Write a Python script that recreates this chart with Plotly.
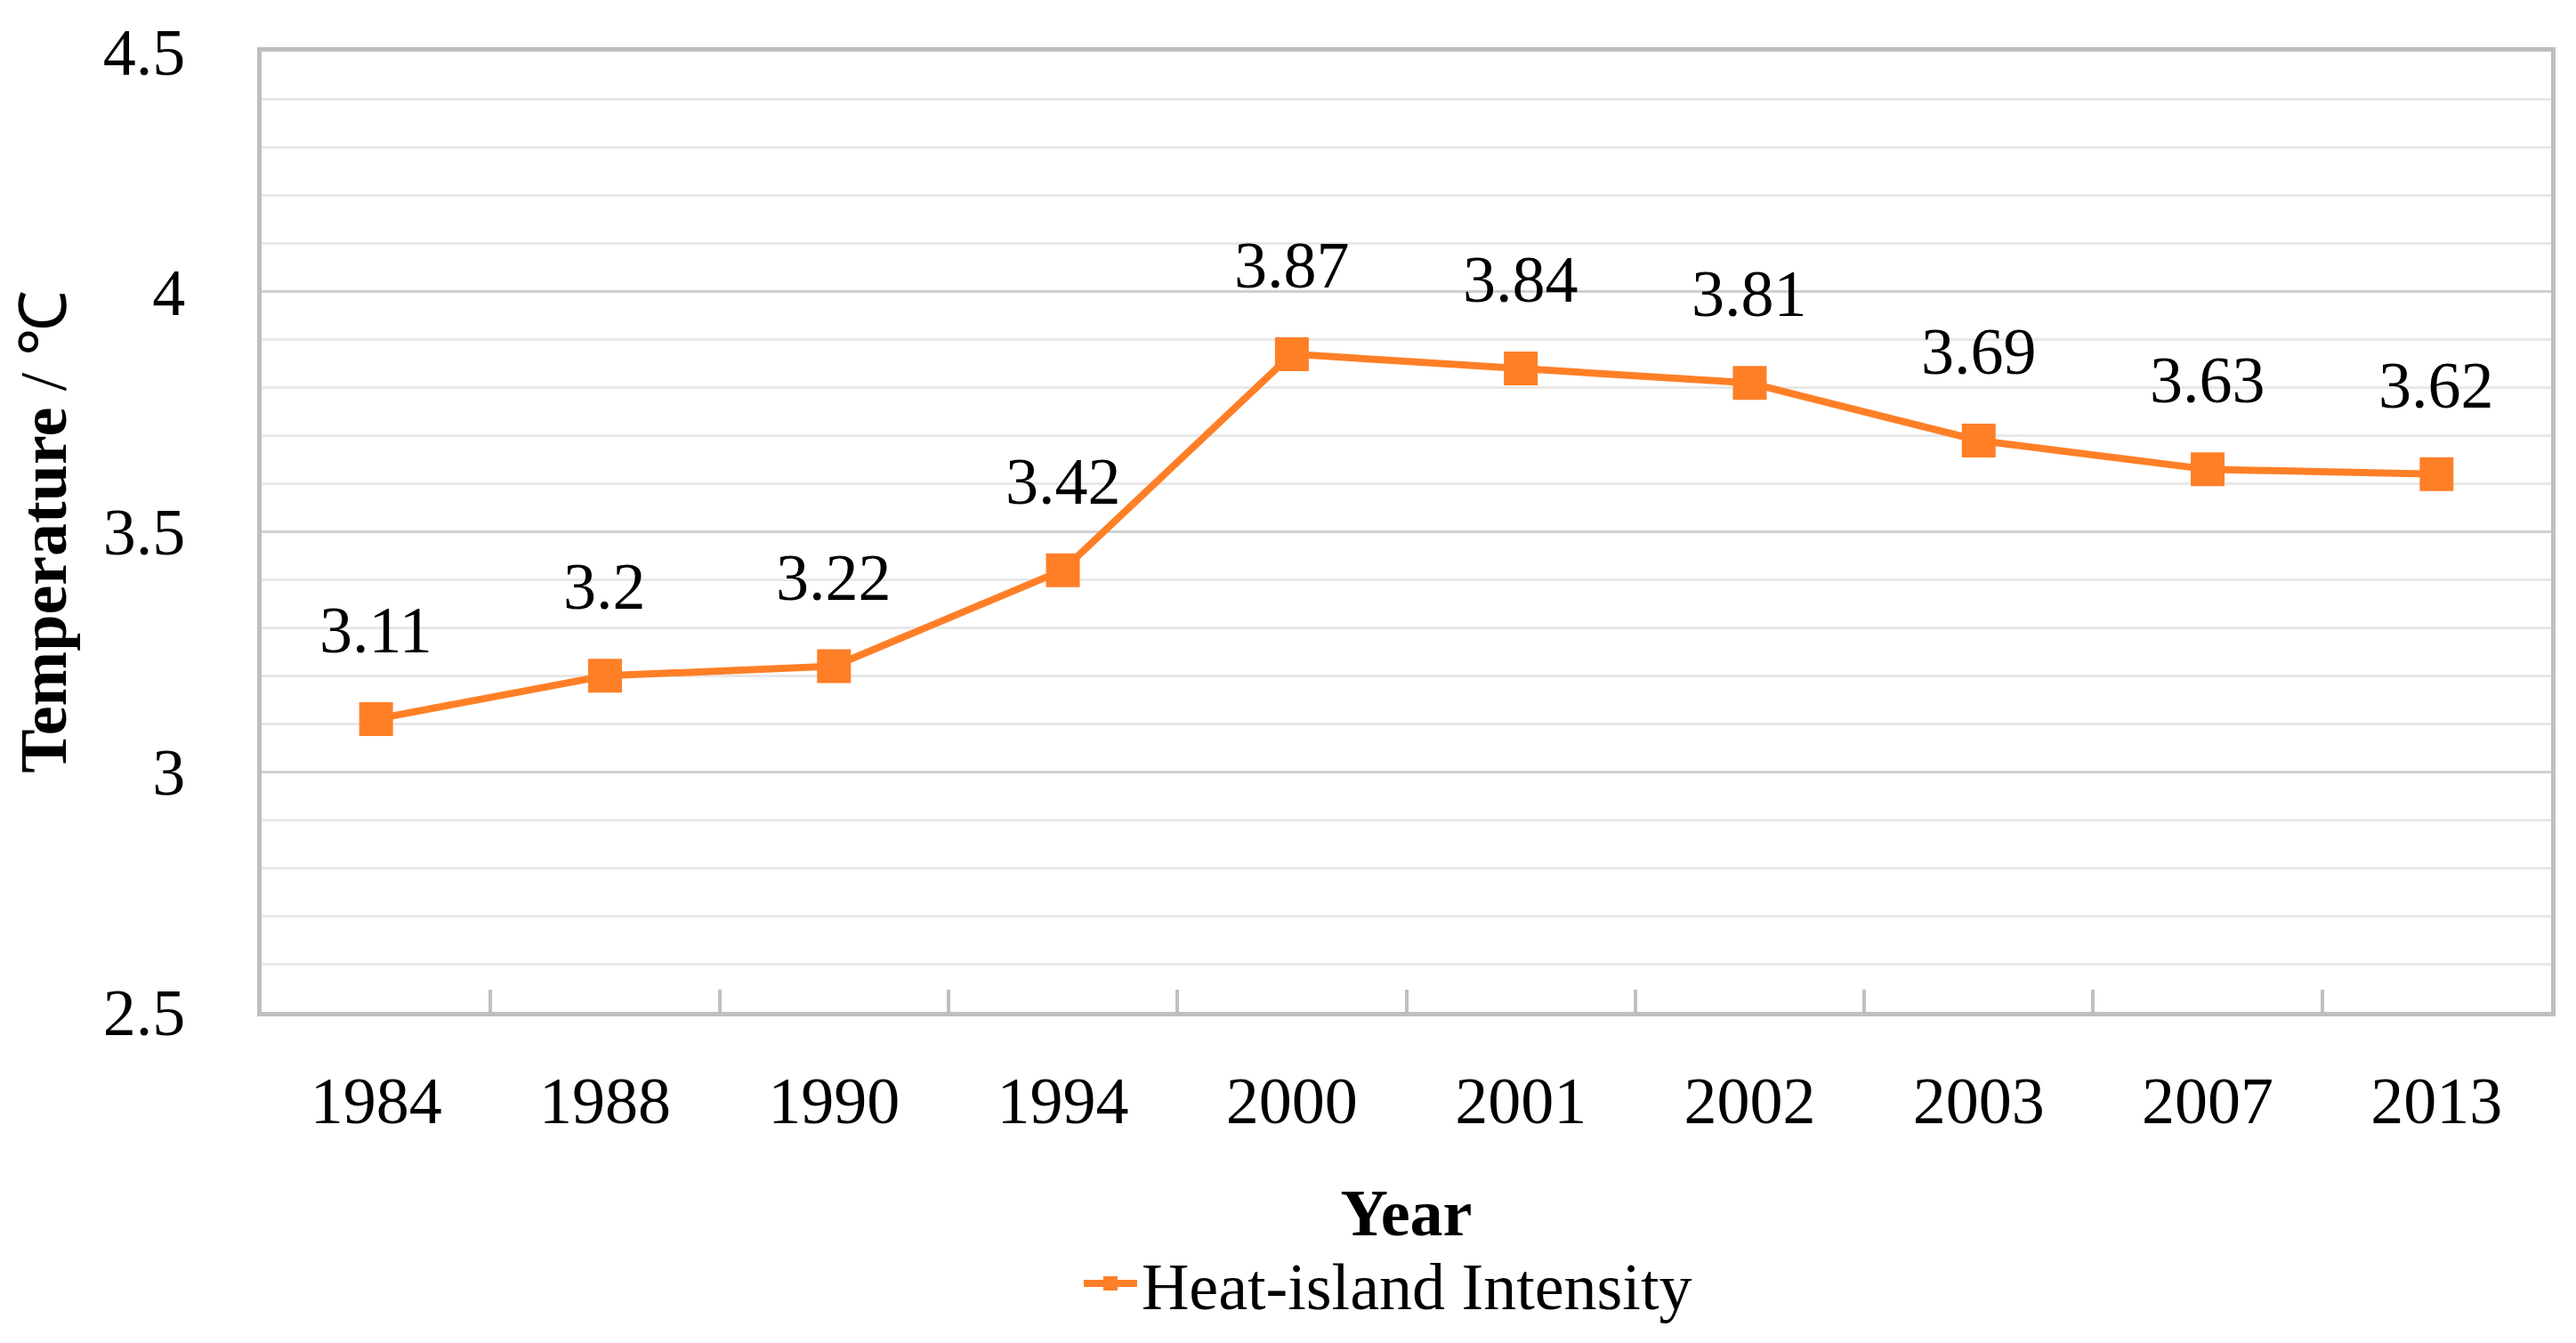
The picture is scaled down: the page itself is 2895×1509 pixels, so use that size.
import plotly.graph_objects as go

years = ["1984", "1988", "1990", "1994", "2000", "2001", "2002", "2003", "2007", "2013"]
intensity = [3.11, 3.2, 3.22, 3.42, 3.87, 3.84, 3.81, 3.69, 3.63, 3.62]
series_name = "Heat-island Intensity"
y_ticks = [2.5, 3, 3.5, 4, 4.5]
y_tick_labels = ["2.5", "3", "3.5", "4", "4.5"]

ORANGE = "#FF7F27"
FONT = "Liberation Serif"
FS = 74

fig = go.Figure()
fig.add_trace(go.Scatter(
    x=years, y=intensity, name=series_name, mode="lines+markers",
    line=dict(color=ORANGE, width=8),
    marker=dict(symbol="square", size=38, color=ORANGE),
))

# category axis: annotations addressed by category index
for i, v in enumerate(intensity):
    fig.add_annotation(x=i, y=v, xref="x", yref="y", text=f"{v:g}", showarrow=False,
                       yshift=100, yanchor="middle",
                       font=dict(family=FONT, size=FS, color="black"))

fig.update_layout(
    width=2895, height=1509,
    margin=dict(l=286, r=36, t=50, b=380),
    paper_bgcolor="white", plot_bgcolor="white",
    font=dict(family=FONT, size=FS, color="black"),
    showlegend=True,
    legend=dict(orientation="h", x=0.492, xanchor="center", y=-0.283, yanchor="middle",
                font=dict(family=FONT, size=FS, color="black"), itemwidth=60,
                bgcolor="rgba(0,0,0,0)"),
)

fig.update_xaxes(
    type="category", categoryorder="array", categoryarray=years,
    range=[-0.5, len(years) - 0.5], automargin=False,
    tickson="boundaries", ticks="inside", ticklen=25,
    tickwidth=4, tickcolor="#bfbfbf", tickangle=0,
    showline=True, mirror=True, linecolor="#bfbfbf", linewidth=5,
    showgrid=False, ticklabelstandoff=31,
    tickfont=dict(family=FONT, size=FS, color="black"),
    title=dict(text="<b>Year</b>", font=dict(family=FONT, size=FS, color="black"), standoff=61),
)
fig.update_yaxes(
    range=[2.5, 4.5], tickvals=y_ticks, ticktext=y_tick_labels, automargin=False,
    showline=True, mirror=True, linecolor="#bfbfbf", linewidth=5,
    showgrid=True, gridcolor="#d0d0d0", gridwidth=3,
    minor=dict(dtick=0.1, showgrid=True, gridcolor="#e8e8e8", gridwidth=3),
    zeroline=False, ticks="", ticklabelstandoff=66,
    tickfont=dict(family=FONT, size=FS, color="black"),
    title=dict(text="<b>Temperature</b> / ℃", font=dict(family=FONT, size=FS, color="black"), standoff=35),
)

fig.write_html("out.html")
